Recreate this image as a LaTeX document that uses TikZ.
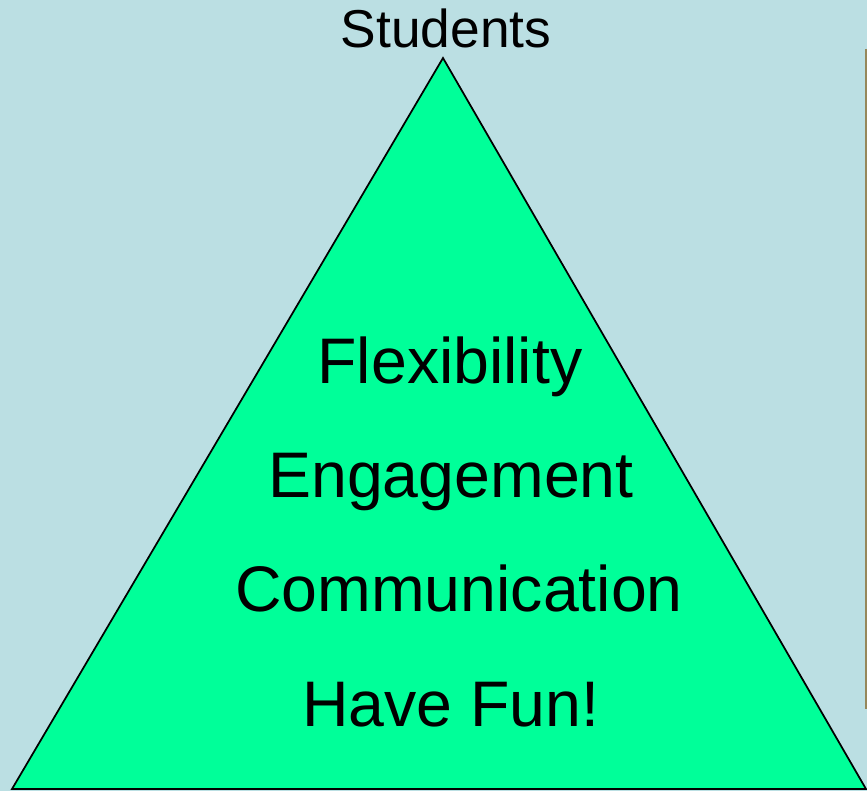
\documentclass[tikz,border=0pt]{standalone}
\usepackage{fontspec}
\setmainfont{Liberation Sans}
\definecolor{bgblue}{RGB}{187,223,227}
\definecolor{pyrgreen}{RGB}{0,255,153}
\definecolor{edgebrown}{RGB}{150,135,90}
\begin{document}
\begin{tikzpicture}[x=0.75pt,y=0.75pt,yscale=-1,xscale=1,
    item/.style={anchor=base, inner sep=0pt, font=\fontsize{48.3}{50}\selectfont}]
            %set diagram left start at 0, and has height of 791
            \fill [bgblue] (0,0) rectangle (867,791);
            \useasboundingbox (0,0) rectangle (867,791);

            %Shape: Triangle
            \coordinate (apex) at (443,58);
            \coordinate (left) at (12,789);
            \coordinate (right) at (866,789);
            \draw [fill=pyrgreen, line width=1.3pt, line join=miter] (apex) -- (left) -- (right) -- cycle ;
            %Straight Lines
            \draw [edgebrown, line width=0.8pt] (866,49) -- (866,709) ;

            % Text Node
            \node [anchor=base, inner sep=0pt, font=\fontsize{40}{42}\selectfont] (students) at (446,48) {Students};
            % Text Node
            \node [item] (flex) at (450,383) {Flexibility};
            % Text Node
            \node [item] (engage) at (451,497) {Engagement};
            % Text Node
            \node [item] (comm) at (459,611) {Communication};
            % Text Node
            \node [item] (fun) at (451,726) {Have Fun!};

\end{tikzpicture}
\end{document}
